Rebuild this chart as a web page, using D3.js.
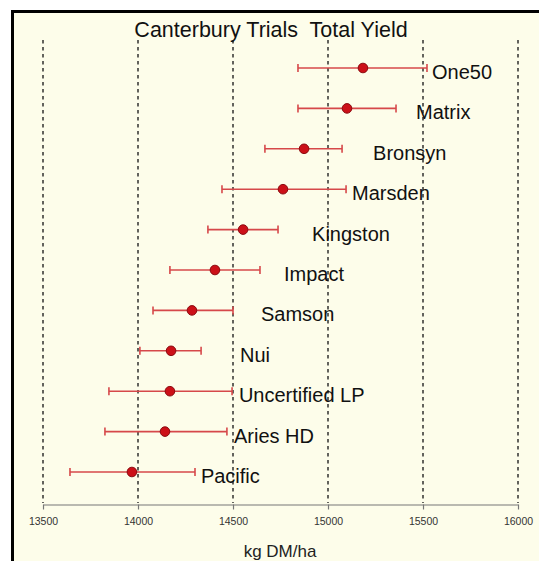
<!DOCTYPE html>
<html>
<head>
<meta charset="utf-8">
<script src="https://cdn.jsdelivr.net/npm/d3@7"></script>
<style>
  body { margin: 0; background: #fff; }
  svg { display: block; font-family: "Liberation Sans", Arial, sans-serif; }
</style>
</head>
<body>
<div id="chart"></div>
<script>
// cultivars, top to bottom
const cultivars = ["One50", "Matrix", "Bronsyn", "Marsden", "Kingston", "Impact",
  "Samson", "Nui", "Uncertified LP", "Aries HD", "Pacific"];
const means = [15184, 15100, 14874, 14763, 14553, 14405, 14284, 14174, 14168, 14142, 13968];
const lower = [14842, 14842, 14668, 14442, 14368, 14168, 14079, 14010, 13847, 13826, 13642];
const upper = [15521, 15358, 15074, 15095, 14737, 14642, 14500, 14332, 14495, 14468, 14300];
const xTicks = [13500, 14000, 14500, 15000, 15500, 16000];

const data = cultivars.map((c, i) => ({ name: c, mean: means[i], lo: lower[i], hi: upper[i] }));

const svgWidth = 539;
const svgHeight = 561;

const svg = d3.select("#chart")
  .append("svg")
  .attr("width", svgWidth)
  .attr("height", svgHeight);

// cream panel with black frame on top and left
svg.append("rect")
  .attr("x", 12).attr("y", 11)
  .attr("width", svgWidth - 12).attr("height", svgHeight - 11)
  .attr("fill", "#fdfdea");
svg.append("path")
  .attr("d", `M12.5,${svgHeight} V11.5 H${svgWidth}`)
  .attr("fill", "none")
  .attr("stroke", "#000")
  .attr("stroke-width", 3);

const x = d3.scaleLinear().domain([13500, 16000]).range([43, 518]);
const y = d3.scalePoint().domain(cultivars).range([68, 472]);

// dashed reference lines
svg.append("g")
  .selectAll("line")
  .data(xTicks)
  .enter()
  .append("line")
  .attr("x1", d => x(d)).attr("x2", d => x(d))
  .attr("y1", 40).attr("y2", 503)
  .attr("stroke", "#222")
  .attr("stroke-width", 1.4)
  .attr("stroke-dasharray", "3.5,3.5");

// x axis
const axisY = 504.5;
const xAxis = svg.append("g")
  .attr("transform", `translate(0,${axisY})`)
  .call(d3.axisBottom(x).tickValues(xTicks).tickFormat(d3.format("d"))
    .tickSize(5).tickSizeOuter(0).tickPadding(8));
xAxis.select(".domain").attr("stroke", "#777").attr("stroke-width", 1.2);
xAxis.selectAll(".tick line").attr("stroke", "#777").attr("stroke-width", 1.2);
xAxis.selectAll(".tick text")
  .attr("font-size", 10.5)
  .attr("fill", "#333")
  .attr("font-family", "Liberation Sans, Arial, sans-serif");

svg.append("text")
  .attr("x", 280)
  .attr("y", 557)
  .attr("text-anchor", "middle")
  .attr("font-size", 17)
  .attr("fill", "#222")
  .text("kg DM/ha");

svg.append("text")
  .attr("x", 271)
  .attr("y", 37)
  .attr("text-anchor", "middle")
  .attr("font-size", 21.5)
  .attr("fill", "#111")
  .attr("xml:space", "preserve")
  .text("Canterbury Trials  Total Yield");

// error bars
const bars = svg.append("g");
const capH = 4;
bars.selectAll(".bar")
  .data(data)
  .enter()
  .append("line")
  .attr("x1", d => x(d.lo)).attr("x2", d => x(d.hi))
  .attr("y1", d => y(d.name)).attr("y2", d => y(d.name))
  .attr("stroke", "#d6484a")
  .attr("stroke-width", 1.6);
bars.selectAll(".capL")
  .data(data)
  .enter()
  .append("line")
  .attr("x1", d => x(d.lo)).attr("x2", d => x(d.lo))
  .attr("y1", d => y(d.name) - capH).attr("y2", d => y(d.name) + capH)
  .attr("stroke", "#d6484a")
  .attr("stroke-width", 1.6);
bars.selectAll(".capR")
  .data(data)
  .enter()
  .append("line")
  .attr("x1", d => x(d.hi)).attr("x2", d => x(d.hi))
  .attr("y1", d => y(d.name) - capH).attr("y2", d => y(d.name) + capH)
  .attr("stroke", "#d6484a")
  .attr("stroke-width", 1.6);

bars.selectAll("circle")
  .data(data)
  .enter()
  .append("circle")
  .attr("cx", d => x(d.mean))
  .attr("cy", d => y(d.name))
  .attr("r", 4.8)
  .attr("fill", "#cc1018")
  .attr("stroke", "#8a0a10")
  .attr("stroke-width", 1);

// cultivar names sit to the right of the mean
svg.append("g")
  .selectAll("text")
  .data(data)
  .enter()
  .append("text")
  .attr("x", d => x(d.mean) + 69)
  .attr("y", d => y(d.name) + 11)
  .attr("font-size", 20)
  .attr("fill", "#111")
  .text(d => d.name);
</script>
</body>
</html>
